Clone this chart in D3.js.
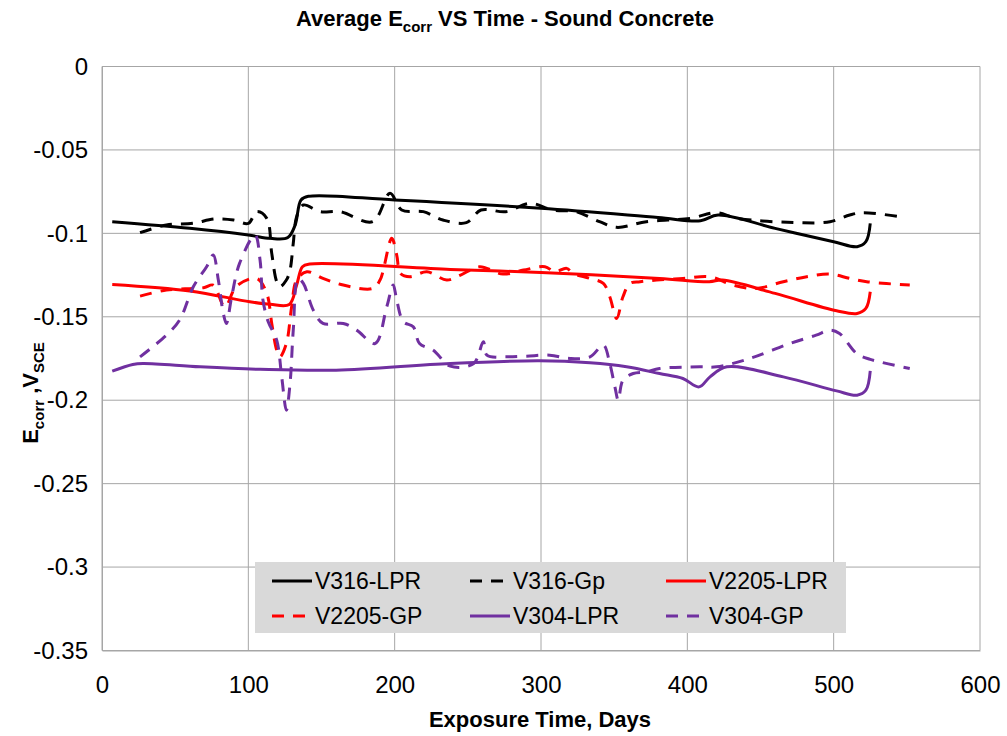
<!DOCTYPE html>
<html><head><meta charset="utf-8">
<script src="https://cdn.jsdelivr.net/npm/d3@7"></script>
<style>
body{margin:0;background:#fff}
text{font-family:"Liberation Sans",Arial,sans-serif}
</style>
</head><body>
<svg id="chart" width="1007" height="736"></svg>
<script>
// ---- data ----
const xTicks = [0, 100, 200, 300, 400, 500, 600];
const yTicks = [0, -0.05, -0.1, -0.15, -0.2, -0.25, -0.3, -0.35];
const yTickLabels = ["0", "-0.05", "-0.1", "-0.15", "-0.2", "-0.25", "-0.3", "-0.35"];

const v316LprDays = [7, 60, 100, 115, 127, 132, 136, 141, 200, 300, 380, 409, 421, 460, 500, 516, 522, 525];
const v316LprVals = [-0.093, -0.097, -0.101, -0.103, -0.1025, -0.095, -0.080, -0.0778, -0.080, -0.085, -0.0905, -0.0925, -0.089, -0.097, -0.105, -0.108, -0.105, -0.094];

const v316GpDays = [26, 44, 62, 77, 90, 100, 105.7, 112.6, 116, 119.4, 121.6, 126, 128.5, 130.7, 133, 137.6, 149, 162.6, 185, 196.8, 204.8, 219.6, 233, 249, 259, 276, 292.5, 308, 324, 340, 351.7, 372, 402, 420, 434, 477, 497.5, 511, 520, 547.6];
const v316GpVals = [-0.0996, -0.095, -0.094, -0.0914, -0.092, -0.094, -0.087, -0.091, -0.112, -0.129, -0.132, -0.128, -0.122, -0.106, -0.090, -0.083, -0.087, -0.087, -0.093, -0.076, -0.086, -0.087, -0.092, -0.0936, -0.086, -0.087, -0.082, -0.086, -0.087, -0.093, -0.0964, -0.093, -0.091, -0.0876, -0.091, -0.0936, -0.093, -0.089, -0.0876, -0.0904];

const v2205LprDays = [7, 60, 101, 115, 128, 133, 137, 142, 238, 300, 381, 415, 424, 460, 502, 516, 522, 525];
const v2205LprVals = [-0.1306, -0.1345, -0.141, -0.1425, -0.1426, -0.131, -0.120, -0.1184, -0.1216, -0.1235, -0.127, -0.129, -0.128, -0.136, -0.1464, -0.148, -0.145, -0.135];

const v2205GpDays = [26, 44, 62, 70, 76, 84, 92, 105.7, 112.6, 116, 119.4, 121.6, 126, 129.6, 133, 140, 151, 164.9, 185, 190, 198, 201.4, 204, 210.5, 222, 235.6, 245, 258, 274, 288, 302.7, 309.5, 317.5, 322, 333.5, 342.6, 347, 351.7, 356, 360.8, 367.7, 379, 397, 415.5, 431, 447, 465.6, 481.6, 497.5, 511, 522.6, 552];
const v2205GpVals = [-0.1376, -0.134, -0.133, -0.1325, -0.131, -0.144, -0.1316, -0.127, -0.136, -0.154, -0.170, -0.174, -0.166, -0.144, -0.128, -0.123, -0.127, -0.131, -0.133, -0.128, -0.103, -0.113, -0.124, -0.126, -0.123, -0.128, -0.125, -0.120, -0.1244, -0.122, -0.120, -0.123, -0.121, -0.124, -0.127, -0.130, -0.138, -0.151, -0.138, -0.130, -0.129, -0.128, -0.127, -0.126, -0.131, -0.133, -0.129, -0.126, -0.1244, -0.127, -0.129, -0.131];

const v304LprDays = [7, 21, 28, 67, 108, 160, 238, 299, 333.5, 358.5, 381, 397, 408, 415.5, 427, 465.6, 502, 516, 522, 525];
const v304LprVals = [-0.1826, -0.1786, -0.178, -0.180, -0.1815, -0.182, -0.178, -0.1764, -0.1776, -0.180, -0.184, -0.187, -0.192, -0.186, -0.180, -0.186, -0.1944, -0.197, -0.194, -0.1824];

const v304GpDays = [26, 44, 53, 62.4, 71.5, 76, 79.5, 82.9, 85, 88.6, 94, 104.6, 108, 110, 113.6, 119.4, 122.8, 126, 128.5, 130.7, 134, 137.6, 144.4, 151, 164.9, 174, 186.6, 194.6, 199, 201.4, 206, 212.7, 217, 226.4, 238, 254, 260.6, 263, 276.6, 290, 306, 319.8, 333.5, 342.6, 347, 350.5, 352.8, 356, 363, 372, 381, 408.6, 420, 442.6, 470, 488, 497.5, 504, 515.7, 525, 552];
const v304GpVals = [-0.174, -0.161, -0.152, -0.132, -0.120, -0.113, -0.128, -0.148, -0.154, -0.138, -0.118, -0.101, -0.116, -0.140, -0.153, -0.164, -0.186, -0.206, -0.190, -0.158, -0.127, -0.130, -0.146, -0.154, -0.154, -0.158, -0.166, -0.144, -0.131, -0.140, -0.153, -0.156, -0.166, -0.170, -0.1796, -0.178, -0.165, -0.173, -0.174, -0.1736, -0.173, -0.175, -0.174, -0.167, -0.178, -0.192, -0.200, -0.188, -0.184, -0.183, -0.181, -0.180, -0.180, -0.175, -0.166, -0.161, -0.158, -0.160, -0.172, -0.1755, -0.181];

const seriesNames = ["V316-LPR", "V316-Gp", "V2205-LPR", "V2205-GP", "V304-LPR", "V304-GP"];
const seriesColors = ["#000000", "#000000", "#ff0000", "#ff0000", "#7030a0", "#7030a0"];
const seriesDashed = [false, true, false, true, false, true];
const seriesDays = [v316LprDays, v316GpDays, v2205LprDays, v2205GpDays, v304LprDays, v304GpDays];
const seriesVals = [v316LprVals, v316GpVals, v2205LprVals, v2205GpVals, v304LprVals, v304GpVals];

// ---- layout ----
const svg = d3.select("#chart");
const plotL = 102, plotR = 980, plotT = 66.5, plotB = 650.5;
const x = d3.scaleLinear().domain([0, 600]).range([plotL, plotR]);
const y = d3.scaleLinear().domain([-0.35, 0]).range([plotB, plotT]);
const gridColor = "#a6a6a6";

// gridlines
svg.append("g").selectAll("line").data(yTicks).join("line")
  .attr("x1", plotL).attr("x2", plotR)
  .attr("y1", d => y(d)).attr("y2", d => y(d))
  .attr("stroke", gridColor).attr("stroke-width", 1);
svg.append("g").selectAll("line").data(xTicks).join("line")
  .attr("x1", d => x(d)).attr("x2", d => x(d))
  .attr("y1", plotT).attr("y2", plotB)
  .attr("stroke", gridColor).attr("stroke-width", 1);

// axes
const xAxis = d3.axisBottom(x).tickValues(xTicks).tickSize(0).tickPadding(25).tickFormat(d3.format("d"));
const gx = svg.append("g").attr("transform", `translate(0,${plotB})`).call(xAxis);
gx.select(".domain").attr("stroke", gridColor);
gx.selectAll("text").attr("font-size", 24).attr("fill", "#000");

const yAxis = d3.axisLeft(y).tickValues(yTicks).tickSize(0).tickPadding(14).tickFormat((d, i) => yTickLabels[i]);
const gy = svg.append("g").attr("transform", `translate(${plotL},0)`).call(yAxis);
gy.select(".domain").attr("stroke", gridColor);
gy.selectAll("text").attr("font-size", 24).attr("fill", "#000");

// series lines
const line = d3.line().x(d => x(d[0])).y(d => y(d[1])).curve(d3.curveCatmullRom.alpha(0.5));
seriesNames.forEach((name, i) => {
  const pts = seriesDays[i].map((d, j) => [d, seriesVals[i][j]]);
  svg.append("path").datum(pts)
    .attr("d", line)
    .attr("fill", "none")
    .attr("stroke", seriesColors[i])
    .attr("stroke-width", 3)
    .attr("stroke-linejoin", "round")
    .attr("stroke-dasharray", seriesDashed[i] ? "12,9" : null);
});

// title
const title = svg.append("text").attr("x", 505).attr("y", 26).attr("text-anchor", "middle")
  .attr("font-size", 22).attr("font-weight", "bold");
title.append("tspan").text("Average E");
title.append("tspan").attr("font-size", 15).attr("dy", 6).text("corr");
title.append("tspan").attr("dy", -6).text(" VS Time - Sound Concrete");

// x axis title
svg.append("text").attr("x", 540).attr("y", 727).attr("text-anchor", "middle")
  .attr("font-size", 22).attr("font-weight", "bold").text("Exposure Time, Days");

// y axis title
const yt = svg.append("text").attr("transform", "translate(38,393) rotate(-90)")
  .attr("text-anchor", "middle").attr("font-size", 22).attr("font-weight", "bold");
yt.append("tspan").text("E");
yt.append("tspan").attr("font-size", 15).attr("dy", 6).text("corr");
yt.append("tspan").attr("dy", -6).text(" ,V");
yt.append("tspan").attr("font-size", 15).attr("dy", 6).text("SCE");

// legend
const lg = svg.append("g");
lg.append("rect").attr("x", 255).attr("y", 562).attr("width", 591).attr("height", 71).attr("fill", "#d9d9d9");
const colX = [272, 470, 666];
const rowY = [581, 616];
seriesNames.forEach((name, i) => {
  const cx = colX[i % 3], cy = rowY[Math.floor(i / 3)];
  lg.append("line").attr("x1", cx).attr("x2", cx + 40).attr("y1", cy).attr("y2", cy)
    .attr("stroke", seriesColors[i]).attr("stroke-width", 3)
    .attr("stroke-dasharray", seriesDashed[i] ? "12,9" : null);
  lg.append("text").attr("x", cx + 43).attr("y", cy + 8).attr("font-size", 23).text(name);
});
</script>
</body></html>
